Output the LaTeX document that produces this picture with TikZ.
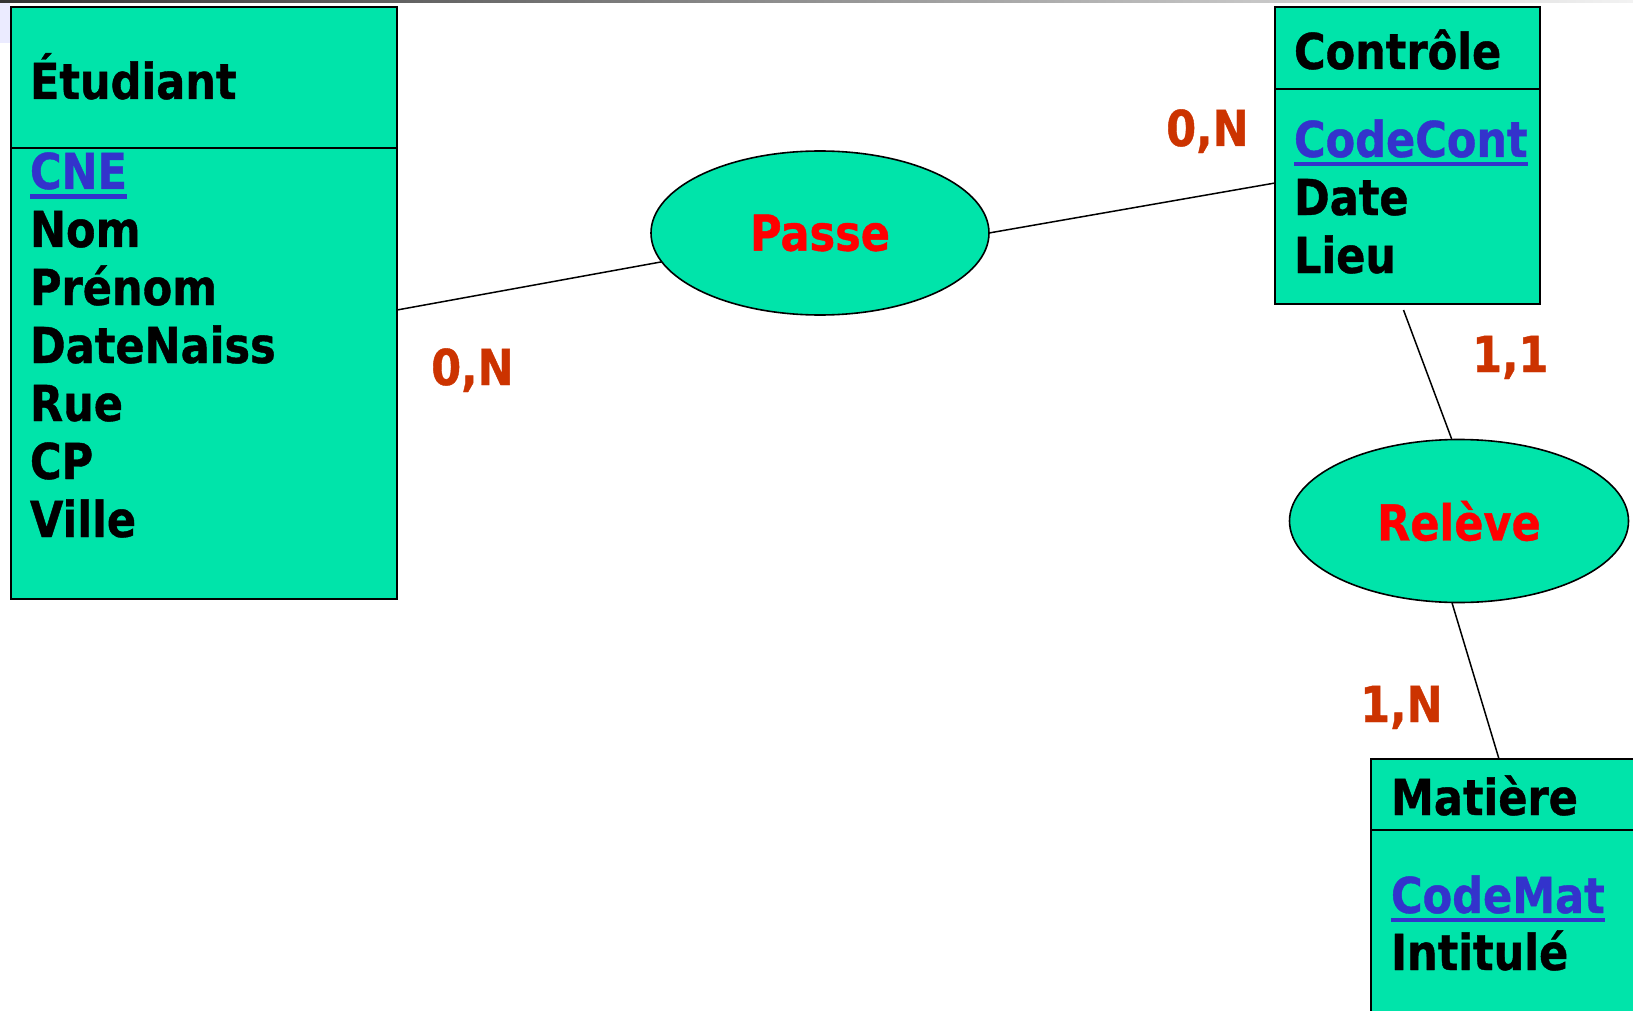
\documentclass[tikz,border=0pt]{standalone}
\usepackage{fontspec}
\setmainfont{DejaVu Sans}[FakeStretch=0.87,FakeBold=0.8]
\usetikzlibrary{shapes.geometric}
\definecolor{ergreen}{RGB}{0,228,170}
\definecolor{keyblue}{RGB}{51,51,204}
\definecolor{relred}{RGB}{255,0,0}
\definecolor{cardred}{RGB}{204,51,0}
\begin{document}
\begin{tikzpicture}[x=1pt,y=-1pt,
  font=\fontsize{49.5}{58}\selectfont\bfseries,
  entity/.style={rectangle,draw=black,line width=2pt,fill=ergreen,inner sep=0pt,outer sep=0pt,anchor=north west},
  rel/.style={ellipse,draw=black,line width=1.6pt,fill=ergreen,inner sep=0pt,outer sep=0pt,text=relred},
  attr/.style={anchor=base west,inner sep=0pt,outer sep=0pt},
  key/.style={attr,text=keyblue},
  card/.style={anchor=base west,inner sep=0pt,text=cardred},
  link/.style={line width=1.5pt},
  divider/.style={line width=2pt},
  uline/.style={keyblue,line width=4.5pt}]
\useasboundingbox (0,0) rectangle (1633,1011);
\clip (0,0) rectangle (1633,1011);
\fill[white] (0,0) rectangle (1633,1011);
\shade[left color=black!80,right color=black!5] (0,0) rectangle (1633,3);
\fill[blue!8] (0,3) rectangle (10,43);
% Etudiant
\node[entity,minimum width=386pt,minimum height=592pt] (etu) at (11,7) {};
\draw[divider] ([yshift=-141pt]etu.north west) -- ([yshift=-141pt]etu.north east);
\node[attr] (etuT) at (30,99) {Étudiant};
\node[key] (cne) at (30,189) {CNE};
\draw[uline] ([yshift=-7.5pt]cne.base west) -- ([yshift=-7.5pt]cne.base east);
\node[attr] (nom) at (30,247) {Nom};
\node[attr] (prenom) at (30,305) {Prénom};
\node[attr] (dn) at (30,363) {DateNaiss};
\node[attr] (rue) at (30,421) {Rue};
\node[attr] (cp) at (30,479) {CP};
\node[attr] (ville) at (30,537) {Ville};
% Controle
\node[entity,minimum width=265pt,minimum height=297pt] (ctrl) at (1275,7) {};
\draw[divider] ([yshift=-82pt]ctrl.north west) -- ([yshift=-82pt]ctrl.north east);
\node[attr] (ctrlT) at (1294,69) {Contrôle};
\node[key] (cc) at (1294,157) {CodeCont};
\draw[uline] ([yshift=-7pt]cc.base west) -- ([yshift=-7pt]cc.base east);
\node[attr] (date) at (1294,215) {Date};
\node[attr] (lieu) at (1294,273) {Lieu};
% Matiere
\node[entity,minimum width=280pt,minimum height=270pt] (mat) at (1371,759) {};
\draw[divider] ([yshift=-71pt]mat.north west) -- ([yshift=-71pt]mat.north east);
\node[attr] (matT) at (1391,815) {Matière};
\node[key] (cm) at (1391,913) {CodeMat};
\draw[uline] ([yshift=-7pt]cm.base west) -- ([yshift=-7pt]cm.base east);
\node[attr] (intit) at (1391,970) {Intitulé};
% Relations
\node[rel,minimum width=338pt,minimum height=164pt] (passe) at (820,233) {Passe};
\node[rel,minimum width=339pt,minimum height=163pt] (releve) at (1459,521) {Relève};
% Links
\draw[link] ([yshift=-7pt]etu.east) -- (passe);
\draw[link] (passe.east) -- ([yshift=-27.5pt]ctrl.west);
\draw[link] ([xshift=-4pt,yshift=-6pt]ctrl.south) -- (releve.95);
\draw[link] (releve.265) -- ([xshift=-12pt]mat.north);
% Cardinalities
\node[card] (c1) at (431,385) {0,N};
\node[card] (c2) at (1166,146) {0,N};
\node[card] (c3) at (1472,372) {1,1};
\node[card] (c4) at (1360,722) {1,N};
\end{tikzpicture}
\end{document}
